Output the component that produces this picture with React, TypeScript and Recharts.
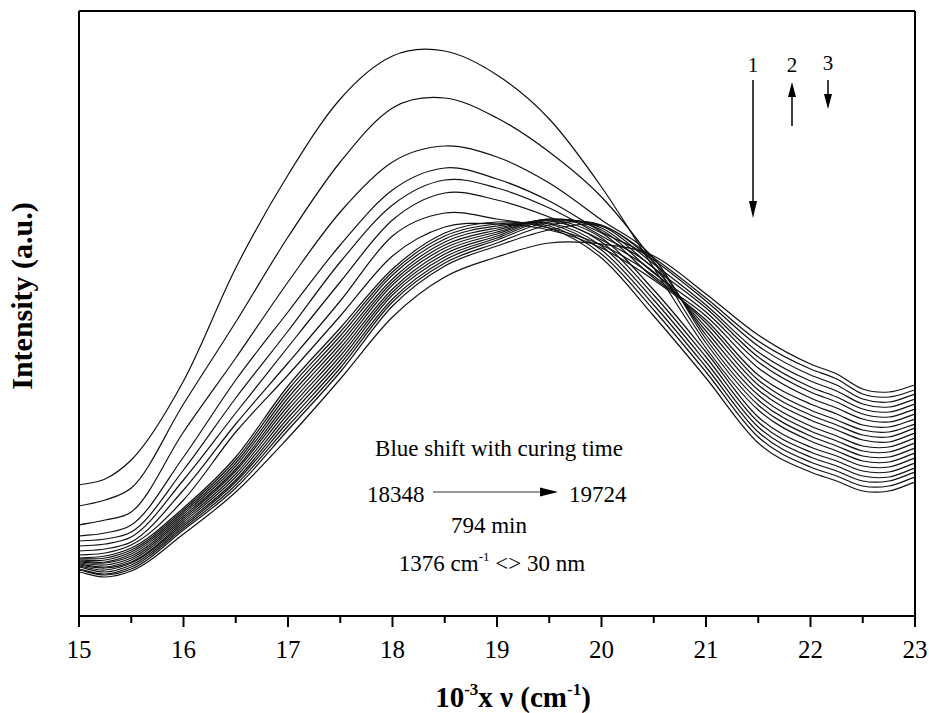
import React from 'react';
import { LineChart, Line, XAxis, YAxis, ReferenceLine } from 'recharts';

// wavenumber grid (10^-3 cm^-1)
const X = [15, 15.25, 15.5, 16, 16.5, 17, 17.5, 18, 18.5, 19, 19.5, 20, 20.5, 21, 21.5, 22, 22.25, 22.5, 22.75, 23];

// early spectra (tall, decreasing peak near 18.3-18.6)
const C1 = [131, 137, 156, 235, 348, 441, 517, 560, 565, 541, 497, 429, 348, 268, 206, 175, 165, 155, 154, 163];
const C2 = [110, 116, 128, 212, 294, 379, 454, 508, 518, 498, 464, 419, 354, 273, 211, 180, 170, 160, 159, 168];
const C3 = [91, 96, 104, 184, 258, 334, 404, 454, 470, 459, 433, 396, 358, 277, 216, 185, 175, 165, 164, 173];
const C4 = [80, 83, 91, 159, 236, 304, 371, 426, 448, 437, 415, 384, 354, 281, 221, 190, 180, 170, 169, 178];
const C5 = [75, 77, 84, 146, 218, 285, 354, 411, 436, 428, 408, 380, 348, 285, 226, 196, 186, 176, 174, 183];
const C6 = [70, 72, 79, 136, 203, 269, 334, 396, 423, 416, 399, 376, 344, 289, 231, 201, 191, 181, 179, 188];
const C7 = [65, 67, 74, 126, 192, 253, 315, 380, 403, 397, 388, 371, 340, 293, 236, 206, 196, 186, 184, 192];
const C8 = [61, 63, 71, 116, 184, 241, 300, 360, 389, 392, 386, 368, 336, 296, 241, 212, 202, 191, 189, 197];

// later spectra (dense bundle, peak near 19.3-19.7)
const B1 = [58, 60, 68, 108, 159, 230, 288, 347, 383, 394, 388, 358, 300, 238, 173, 144, 135, 125, 125, 134];
const B2 = [57, 58, 66, 106, 156, 226, 284, 344, 380, 392, 390, 362, 306, 244, 179, 149, 140, 130, 130, 139];
const B3 = [56, 56, 64, 104, 153, 222, 280, 341, 377, 390, 392, 366, 311, 249, 184, 154, 145, 135, 135, 144];
const B4 = [55, 54, 62, 102, 150, 218, 276, 337, 374, 388, 393, 370, 316, 254, 189, 159, 150, 140, 139, 148];
const B5 = [54, 53, 60, 100, 147, 214, 272, 334, 371, 386, 395, 374, 321, 259, 194, 164, 155, 145, 144, 153];
const B6 = [53, 51, 58, 98, 145, 210, 268, 331, 368, 384, 396, 378, 326, 264, 199, 169, 160, 150, 149, 158];
const B7 = [52, 49, 56, 96, 142, 206, 264, 327, 365, 382, 397, 383, 338, 300, 248, 218, 208, 197, 194, 202];
const B8 = [51, 48, 54, 94, 139, 202, 260, 324, 362, 380, 397, 386, 343, 304, 254, 224, 214, 202, 199, 207];
const B9 = [50, 46, 53, 92, 136, 198, 256, 321, 359, 378, 396, 388, 348, 308, 259, 229, 219, 207, 204, 212];
const B10 = [49, 44, 51, 90, 134, 194, 252, 317, 356, 376, 394, 390, 352, 311, 264, 235, 225, 212, 209, 217];
const B11 = [47, 42, 49, 88, 131, 190, 248, 314, 353, 373, 391, 391, 356, 315, 270, 241, 231, 217, 214, 222];
const B12 = [46, 41, 47, 86, 128, 186, 244, 310, 350, 370, 386, 390, 358, 318, 275, 247, 237, 222, 219, 226];
const L = [44, 39, 45, 82, 124, 178, 237, 299, 339, 359, 373, 372, 360, 322, 281, 252, 242, 227, 224, 231];

const SERIES: [string, number[]][] = [
  ['C1', C1], ['C2', C2], ['C3', C3], ['C4', C4], ['C5', C5], ['C6', C6], ['C7', C7], ['C8', C8],
  ['B1', B1], ['B2', B2], ['B3', B3], ['B4', B4], ['B5', B5], ['B6', B6], ['B7', B7], ['B8', B8],
  ['B9', B9], ['B10', B10], ['B11', B11], ['B12', B12], ['L', L],
];

const X_TICKS = [15, 15.5, 16, 16.5, 17, 17.5, 18, 18.5, 19, 19.5, 20, 20.5, 21, 21.5, 22, 22.5, 23];
const X_DOMAIN: [number, number] = [15, 23];
const Y_DOMAIN: [number, number] = [0, 605];

const data = X.map((x, i) => {
  const row: Record<string, number> = { x };
  SERIES.forEach(([k, arr]) => {
    row[k] = arr[i];
  });
  return row;
});

// smooth cubic Hermite curve that respects uneven x spacing
const smoothCurve: any = (context: any) => {
  let xs: number[] = [];
  let ys: number[] = [];
  return {
    areaStart() {},
    areaEnd() {},
    lineStart() {
      xs = [];
      ys = [];
    },
    point(x: number, y: number) {
      xs.push(+x);
      ys.push(+y);
    },
    lineEnd() {
      const n = xs.length;
      if (!n) return;
      context.moveTo(xs[0], ys[0]);
      if (n === 1) return;
      if (n === 2) {
        context.lineTo(xs[1], ys[1]);
        return;
      }
      const m: number[] = new Array(n);
      for (let i = 0; i < n; i++) {
        if (i === 0) m[i] = (ys[1] - ys[0]) / (xs[1] - xs[0]);
        else if (i === n - 1) m[i] = (ys[n - 1] - ys[n - 2]) / (xs[n - 1] - xs[n - 2]);
        else {
          const h0 = xs[i] - xs[i - 1];
          const h1 = xs[i + 1] - xs[i];
          const d0 = (ys[i] - ys[i - 1]) / h0;
          const d1 = (ys[i + 1] - ys[i]) / h1;
          m[i] = (d0 * h1 + d1 * h0) / (h0 + h1);
        }
      }
      for (let i = 0; i < n - 1; i++) {
        const h = xs[i + 1] - xs[i];
        context.bezierCurveTo(
          xs[i] + h / 3,
          ys[i] + (m[i] * h) / 3,
          xs[i + 1] - h / 3,
          ys[i + 1] - (m[i + 1] * h) / 3,
          xs[i + 1],
          ys[i + 1],
        );
      }
    },
  };
};

const SERIF = '"Liberation Serif", "Times New Roman", serif';

const XTick = (props: any) => {
  const { x, y, payload } = props;
  const v = payload.value;
  const major = Math.abs(v - Math.round(v)) < 1e-6;
  return (
    <g>
      <line x1={x} x2={x} y1={y} y2={y + (major ? 11 : 7)} stroke="#000" strokeWidth={2} />
      {major && (
        <text x={x} y={y + 42} textAnchor="middle" fontFamily={SERIF} fontSize={25} fill="#000">
          {v}
        </text>
      )}
    </g>
  );
};

export default function App() {
  return (
    <div style={{ position: 'relative', width: 929, height: 713, background: '#fff' }}>
      <style>{'body{margin:0;background:#fff;}'}</style>
      <LineChart
        width={929}
        height={713}
        data={data}
        margin={{ top: 11, right: 14, bottom: 57, left: 79 }}
      >
        <XAxis
          dataKey="x"
          type="number"
          domain={X_DOMAIN}
          ticks={X_TICKS}
          interval={0}
          allowDataOverflow
          height={40}
          tickSize={0}
          tickMargin={0}
          tickLine={false}
          axisLine={{ stroke: '#000', strokeWidth: 2 }}
          tick={<XTick />}
        />
        <YAxis type="number" domain={Y_DOMAIN} allowDataOverflow hide width={0} />
        {SERIES.map(([k]) => (
          <Line
            key={k}
            dataKey={k}
            type={smoothCurve}
            dot={false}
            activeDot={false}
            stroke="#111"
            strokeWidth={1.2}
            isAnimationActive={false}
          />
        ))}
        <ReferenceLine x={X_DOMAIN[0]} stroke="#000" strokeWidth={2} ifOverflow="visible" />
        <ReferenceLine x={X_DOMAIN[1]} stroke="#000" strokeWidth={2} ifOverflow="visible" />
        <ReferenceLine y={Y_DOMAIN[1]} stroke="#000" strokeWidth={2} ifOverflow="visible" />
      </LineChart>
      <svg
        width={929}
        height={713}
        style={{ position: 'absolute', left: 0, top: 0, pointerEvents: 'none' }}
      >
        <text
          transform="translate(32, 296) rotate(-90)"
          textAnchor="middle"
          fontFamily={SERIF}
          fontWeight="bold"
          fontSize={30}
          fill="#000"
        >
          Intensity (a.u.)
        </text>
        <text x={513} y={707} textAnchor="middle" fontFamily={SERIF} fontWeight="bold" fontSize={29} fill="#000">
          10<tspan dy={-12} fontSize={17}>-3</tspan>
          <tspan dy={12}>x ν (cm</tspan>
          <tspan dy={-12} fontSize={17}>-1</tspan>
          <tspan dy={12}>)</tspan>
        </text>

        <text x={499} y={456} textAnchor="middle" fontFamily={SERIF} fontSize={23} fill="#000">
          Blue shift with curing time
        </text>
        <text x={367} y={502} fontFamily={SERIF} fontSize={23} fill="#000">18348</text>
        <line x1={433} x2={545} y1={492} y2={492} stroke="#333" strokeWidth={1} />
        <polygon points="558,492 540,487.5 540,496.5" fill="#000" />
        <text x={569} y={502} fontFamily={SERIF} fontSize={23} fill="#000">19724</text>
        <text x={489} y={533} textAnchor="middle" fontFamily={SERIF} fontSize={23} fill="#000">794 min</text>
        <text x={492} y={571} textAnchor="middle" fontFamily={SERIF} fontSize={23} fill="#000">
          1376 cm<tspan dy={-10} fontSize={13}>-1</tspan>
          <tspan dy={10}> {'<>'} 30 nm</tspan>
        </text>

        <text x={753} y={72} textAnchor="middle" fontFamily={SERIF} fontSize={21} fill="#000">1</text>
        <line x1={753} x2={753} y1={80} y2={206} stroke="#000" strokeWidth={1.5} />
        <polygon points="753,218 749,201 757,201" fill="#000" />

        <text x={792} y={72} textAnchor="middle" fontFamily={SERIF} fontSize={21} fill="#000">2</text>
        <line x1={792} x2={792} y1={126} y2={92} stroke="#000" strokeWidth={1.5} />
        <polygon points="792,82 788,97 796,97" fill="#000" />

        <text x={828} y={70} textAnchor="middle" fontFamily={SERIF} fontSize={21} fill="#000">3</text>
        <line x1={828} x2={828} y1={80} y2={98} stroke="#000" strokeWidth={1.5} />
        <polygon points="828,109 824,94 832,94" fill="#000" />
      </svg>
    </div>
  );
}
